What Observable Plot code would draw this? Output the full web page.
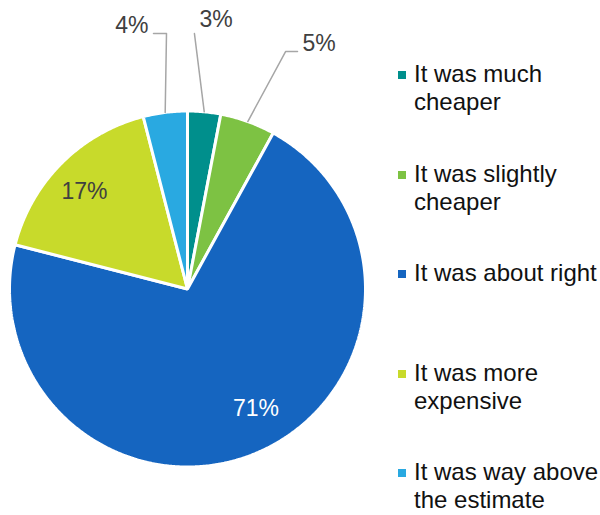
<!DOCTYPE html>
<html><head><meta charset="utf-8">
<script src="https://cdn.jsdelivr.net/npm/d3@7"></script>
<script src="https://cdn.jsdelivr.net/npm/@observablehq/plot@0.6"></script>
<style>
body{margin:0;background:#fff;font-family:"Liberation Sans",Arial,sans-serif;}
#wrap{position:relative;width:600px;height:515px;overflow:hidden;}
#chart{position:absolute;left:0;top:0;}
#legend{position:absolute;left:398px;top:0;width:202px;}
.item{position:absolute;left:0;width:202px;}
.sw{position:absolute;left:0;width:8px;height:8px;top:11px;}
.tx{position:absolute;left:16px;font-size:24px;line-height:28px;color:#111;white-space:nowrap;}
</style></head><body>
<div id="wrap"><div id="chart"></div><div id="legend"></div></div>
<script>
// ---- data ----
const categories = ["It was much cheaper","It was slightly cheaper","It was about right","It was more expensive","It was way above the estimate"];
const legendLines = [["It was much","cheaper"],["It was slightly","cheaper"],["It was about right"],["It was more","expensive"],["It was way above","the estimate"]];
const values = [3, 5, 71, 17, 4];
const labels = ["3%", "5%", "71%", "17%", "4%"];
const colors = ["#008F8C", "#7DC243", "#1565C0", "#C8DA2B", "#29A9E1"];

// ---- layout (label placement, in chart units of radius) ----
const labelPos = [
  {x: 0.067, y: 1.514, anchor: "start", fill: "#404040", leader: [[0.039, 1.435]]},
  {x: 0.646, y: 1.376, anchor: "start", fill: "#404040", leader: [[0.551, 1.334], [0.618, 1.334]]},
  {x: 0.385, y: -0.671, anchor: "middle", fill: "#ffffff", leader: null},
  {x: -0.579, y: 0.545, anchor: "middle", fill: "#404040", leader: null},
  {x: -0.219, y: 1.480, anchor: "end", fill: "#404040", leader: [[-0.118, 1.435], [-0.191, 1.435]]}
];

const arcs = d3.pie().sort(null).value(d => d)(values);
const slicePts = [];
arcs.forEach((a, i) => {
  slicePts.push({cat: categories[i], x: 0, y: 0});
  const n = Math.max(2, Math.ceil((a.endAngle - a.startAngle) / (Math.PI / 360)));
  for (let k = 0; k <= n; k++) {
    const t = a.startAngle + (a.endAngle - a.startAngle) * k / n;
    slicePts.push({cat: categories[i], x: Math.sin(t), y: Math.cos(t)});
  }
});

const leaderPts = [];
arcs.forEach((a, i) => {
  const lp = labelPos[i];
  if (!lp.leader) return;
  const m = (a.startAngle + a.endAngle) / 2;
  leaderPts.push({id: i, x: Math.sin(m), y: Math.cos(m)});
  lp.leader.forEach(([x, y]) => leaderPts.push({id: i, x, y}));
});

const labelData = labels.map((t, i) => ({text: t, ...labelPos[i]}));

const cx = 187, cy = 288.5, r = 178;
const chart = Plot.plot({
  width: 600, height: 515,
  margin: 0,
  x: {domain: [-1, 1], range: [cx - r, cx + r], axis: null},
  y: {domain: [-1, 1], range: [cy + r, cy - r], axis: null},
  color: {domain: categories, range: colors},
  style: {fontFamily: '"Liberation Sans", Arial, sans-serif', background: "#fff"},
  marks: [
    Plot.line(slicePts, {x: "x", y: "y", z: "cat", fill: "cat", stroke: "#fff", strokeWidth: 3, strokeLinejoin: "miter", curve: "linear-closed"}),
    Plot.line(leaderPts, {x: "x", y: "y", z: "id", stroke: "#A6A6A6", strokeWidth: 1.5}),
    Plot.text(labelData.filter(d => d.anchor === "start"), {x: "x", y: "y", text: "text", textAnchor: "start", fill: "fill", fontSize: 23}),
    Plot.text(labelData.filter(d => d.anchor === "middle"), {x: "x", y: "y", text: "text", textAnchor: "middle", fill: "fill", fontSize: 23}),
    Plot.text(labelData.filter(d => d.anchor === "end"), {x: "x", y: "y", text: "text", textAnchor: "end", fill: "fill", fontSize: 23})
  ]
});
document.getElementById("chart").appendChild(chart);

const legend = document.getElementById("legend");
categories.forEach((c, i) => {
  const item = document.createElement("div");
  item.className = "item";
  item.style.top = (60 + i * 99.5) + "px";
  const sw = document.createElement("div");
  sw.className = "sw";
  sw.style.background = colors[i];
  const tx = document.createElement("div");
  tx.className = "tx";
  tx.innerHTML = legendLines[i].join("<br>");
  item.appendChild(sw); item.appendChild(tx);
  legend.appendChild(item);
});
</script>
</body></html>
